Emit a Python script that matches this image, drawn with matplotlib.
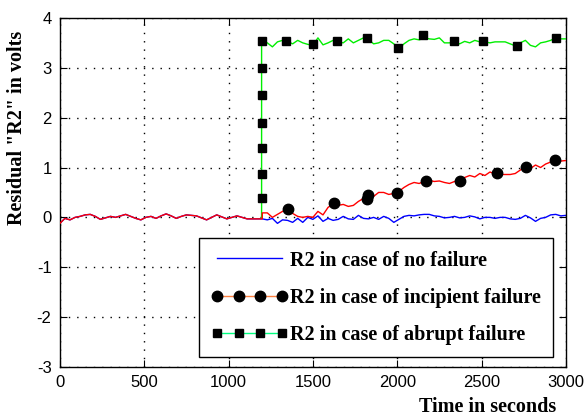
import numpy as np
import matplotlib
matplotlib.use('Agg')
import matplotlib.pyplot as plt
from matplotlib.lines import Line2D

# Thời gian (s)
t_pre = np.arange(0, 1201, 30)
t_post = np.arange(1200, 3001, 30)

# Nhiễu chung trước khi lỗi xảy ra (0 -> 1200 s)
baseline_pre = [-0.12, -0.02, -0.05, 0.0, 0.02, 0.05, 0.06, 0.02, -0.04, -0.01,
                0.02, 0.0, 0.03, 0.06, 0.02, -0.02, -0.05, 0.0, 0.02, -0.02,
                0.03, 0.07, 0.03, -0.02, 0.02, 0.05, 0.04, 0.03, -0.01, -0.05,
                0.0, 0.05, 0.01, -0.03, 0.0, 0.03, 0.0, -0.03, -0.03, -0.03,
                -0.03]

# R2 - không lỗi (1200 -> 3000 s)
blue_post = [-0.03, -0.05, -0.02, -0.12, -0.05, -0.06, -0.10, -0.02, -0.10, 0.0,
             -0.04, 0.03, -0.08, -0.02, -0.06, -0.04, 0.02, -0.03, -0.04, 0.04,
             -0.02, -0.03, 0.0, -0.04, 0.02, -0.02, -0.10, -0.04, 0.02, 0.04,
             0.03, 0.05, 0.06, 0.06, 0.03, 0.02, -0.01, 0.0, 0.02, -0.01,
             0.0, 0.03, 0.01, -0.03, 0.0, 0.0, -0.02, 0.0, 0.0, -0.03,
             -0.04, -0.02, 0.04, -0.01, -0.08, -0.02, 0.0, 0.05, 0.06, 0.03,
             0.04]

# R2 - lỗi tiệm tiến
red_post = [0.09, 0.09, 0.0, 0.06, 0.12, 0.16, 0.08, 0.02, 0.0, 0.02,
            0.0, 0.12, 0.05, 0.20, 0.27, 0.24, 0.26, 0.22, 0.24, 0.32,
            0.38, 0.41, 0.42, 0.50, 0.50, 0.46, 0.48, 0.52, 0.60, 0.66,
            0.70, 0.68, 0.72, 0.74, 0.72, 0.73, 0.70, 0.68, 0.72, 0.75,
            0.80, 0.84, 0.81, 0.88, 0.84, 0.91, 0.87, 0.86, 0.86, 0.86,
            0.88, 0.95, 1.01, 0.98, 1.05, 1.00, 1.07, 1.11, 1.15, 1.13,
            1.14]
red_mark_t = [1355, 1624, 1820, 1826, 2000, 2170, 2371, 2592, 2766, 2938]
red_mark_v = [0.17, 0.28, 0.37, 0.44, 0.49, 0.73, 0.73, 0.88, 1.02, 1.15]

# R2 - lỗi đột ngột
green_step_t = [1196, 1196, 1196, 1196, 1196, 1196, 1196, 1196]
green_step_v = [0.0, 0.39, 0.87, 1.39, 1.89, 2.45, 3.0, 3.53]
green_post = [3.55, 3.50, 3.42, 3.52, 3.55, 3.53, 3.48, 3.55, 3.50, 3.47,
              3.45, 3.60, 3.46, 3.50, 3.55, 3.52, 3.50, 3.58, 3.50, 3.55,
              3.60, 3.57, 3.48, 3.50, 3.55, 3.55, 3.48, 3.38, 3.48, 3.55,
              3.58, 3.56, 3.60, 3.58, 3.57, 3.60, 3.50, 3.50, 3.52, 3.48,
              3.53, 3.50, 3.55, 3.52, 3.52, 3.50, 3.52, 3.52, 3.52, 3.48,
              3.44, 3.50, 3.55, 3.45, 3.42, 3.50, 3.52, 3.55, 3.60, 3.58,
              3.58]
green_mark_t = green_step_t[1:] + [1340, 1502, 1646, 1822, 2006, 2154, 2336, 2510, 2711, 2940]
green_mark_v = green_step_v[1:] + [3.53, 3.47, 3.53, 3.59, 3.39, 3.66, 3.53, 3.53, 3.44, 3.59]

serif = 'Liberation Serif'
plt.rcParams['font.family'] = 'Liberation Sans'
plt.rcParams['axes.unicode_minus'] = False

fig = plt.figure(figsize=(5.87, 4.17), dpi=100)
ax = fig.add_axes([0.102, 0.12, 0.862, 0.837])

ax.plot(list(t_pre) + list(t_post), baseline_pre + blue_post, color='#0000FF', lw=1, zorder=2)
ax.plot(green_step_t + list(t_post), green_step_v + green_post, color='#00EE00', lw=1, zorder=3)
ax.plot(list(t_pre) + list(t_post), baseline_pre + red_post, color='#FF0000', lw=1, zorder=4)
ax.plot(red_mark_t, red_mark_v, 'o', color='black', ms=7.5, zorder=5)
ax.plot(green_mark_t, green_mark_v, 's', color='black', ms=5.5, zorder=5)

ax.set_xlim(0, 3000)
ax.set_ylim(-3, 4)
ax.set_xticks(range(0, 3001, 500))
ax.set_yticks(range(-3, 5))
ax.tick_params(direction='in', top=True, right=True, length=5, labelsize=12)
ax.tick_params(axis='x', pad=6)
ax.tick_params(axis='y', pad=6)
ax.grid(True, color='black', ls=(0, (1, 5)), lw=1)
for s in ax.spines.values():
    s.set_linewidth(1)

ax.set_xlabel('Time in seconds', fontsize=14.5, fontweight='bold', family=serif)
ax.xaxis.set_label_coords(0.846, -0.087)
ax.set_ylabel('Residual "R2" in volts', fontsize=14.5, fontweight='bold', family=serif)
ax.yaxis.set_label_coords(-0.065, 0.685)

handles = [
    Line2D([], [], color='#0000FF', lw=1),
    Line2D([], [], color='#FF8040', lw=1, marker='o', mfc='black', mec='black', ms=7.5),
    Line2D([], [], color='#00FF80', lw=1, marker='s', mfc='black', mec='black', ms=5.5),
]
labels = ['R2 in case of no failure', 'R2 in case of incipient failure', 'R2 in case of abrupt failure']
leg = ax.legend(handles, labels, loc='lower right', bbox_to_anchor=(0.974, 0.029), numpoints=4,
                prop={'family': serif, 'weight': 'bold', 'size': 14.5}, fancybox=False,
                edgecolor='black', framealpha=1, handlelength=3.8, handletextpad=0.1,
                labelspacing=0.85, borderpad=0.6, borderaxespad=0)
leg.get_frame().set_linewidth(1)

plt.savefig('out.png', dpi=100)
